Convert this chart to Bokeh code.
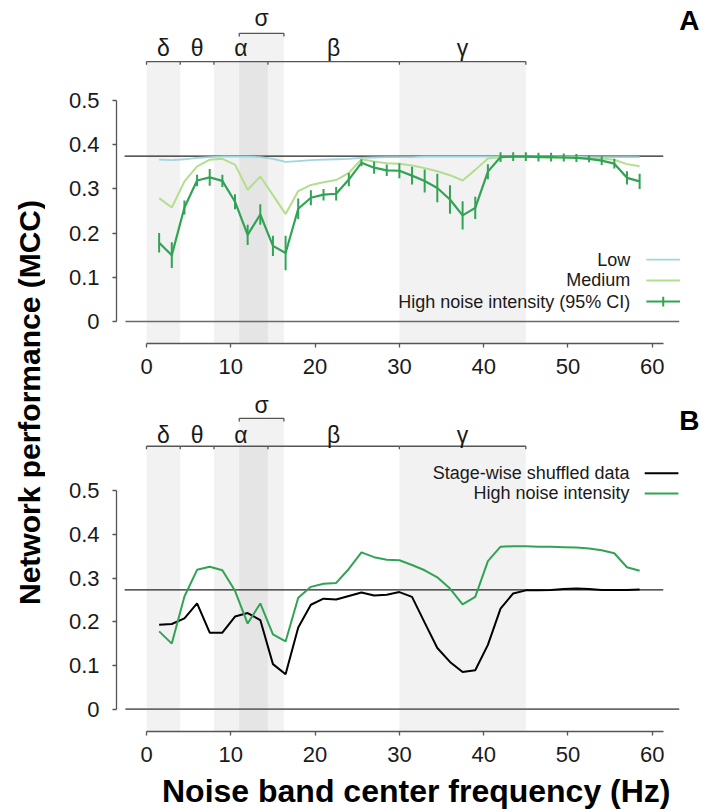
import math
from bokeh.plotting import figure
from bokeh.layouts import row, column
from bokeh.models import Range1d, FixedTicker
from bokeh.embed import file_html
from bokeh.resources import INLINE
from bokeh.core.properties import value

# ---------------- data ----------------
freq = [1.5, 3.0, 4.5, 6.0, 7.5, 9.0, 10.5, 12.0, 13.5, 15.0,
        16.5, 18.0, 19.5, 21.0, 22.5, 24.0, 25.5, 27.0, 28.5, 30.0,
        31.5, 33.0, 34.5, 36.0, 37.5, 39.0, 40.5, 42.0, 43.5, 45.0,
        46.5, 48.0, 49.5, 51.0, 52.5, 54.0, 55.5, 57.0, 58.5]

low = [0.366, 0.365, 0.367, 0.370, 0.372, 0.373, 0.373, 0.373, 0.372, 0.368,
       0.361, 0.363, 0.365, 0.366, 0.367, 0.368, 0.370, 0.371, 0.372, 0.372,
       0.372, 0.373, 0.373, 0.373, 0.373, 0.373, 0.373, 0.373, 0.373, 0.373,
       0.373, 0.373, 0.373, 0.373, 0.372, 0.372, 0.372, 0.372, 0.372]

medium = [0.279, 0.258, 0.317, 0.351, 0.366, 0.368, 0.355, 0.298, 0.328, 0.286,
          0.243, 0.295, 0.309, 0.315, 0.320, 0.336, 0.367, 0.362, 0.358, 0.357,
          0.353, 0.347, 0.340, 0.331, 0.319, 0.343, 0.369, 0.372, 0.372, 0.372,
          0.372, 0.371, 0.371, 0.371, 0.370, 0.369, 0.366, 0.356, 0.351]

high = [0.178, 0.150, 0.258, 0.319, 0.326, 0.318, 0.271, 0.196, 0.242, 0.171,
        0.155, 0.255, 0.280, 0.287, 0.289, 0.321, 0.359, 0.348, 0.342, 0.341,
        0.330, 0.318, 0.302, 0.276, 0.240, 0.257, 0.339, 0.372, 0.373, 0.373,
        0.372, 0.372, 0.371, 0.370, 0.368, 0.364, 0.357, 0.325, 0.317]

high_ci = [0.022, 0.029, 0.016, 0.013, 0.019, 0.014, 0.017, 0.023, 0.023, 0.023,
           0.039, 0.023, 0.017, 0.013, 0.015, 0.015, 0.008, 0.014, 0.013, 0.017,
           0.020, 0.026, 0.032, 0.032, 0.032, 0.025, 0.017, 0.011, 0.010, 0.010,
           0.010, 0.010, 0.009, 0.009, 0.008, 0.010, 0.011, 0.015, 0.017]

shuffled = [0.193, 0.195, 0.208, 0.242, 0.175, 0.175, 0.212, 0.220, 0.204, 0.103,
            0.080, 0.187, 0.239, 0.253, 0.251, 0.259, 0.267, 0.260, 0.262, 0.268,
            0.257, 0.198, 0.140, 0.108, 0.085, 0.089, 0.147, 0.230, 0.265, 0.272,
            0.272, 0.273, 0.275, 0.276, 0.275, 0.273, 0.273, 0.273, 0.274]

ref_A = 0.374
ref_B = 0.273

band_names = ["δ", "θ", "α", "β", "γ"]
band_lo = [0, 4, 8, 14.4, 30]
band_hi = [4, 8, 14.4, 30, 45]
band_shaded = [True, False, True, False, True]
sigma_name = "σ"
sigma_lo = 11
sigma_hi = 16.3

x_ticks = [0, 10, 20, 30, 40, 50, 60]
y_ticks = [0, 0.1, 0.2, 0.3, 0.4, 0.5]
y_tick_labels = ["0", "0.1", "0.2", "0.3", "0.4", "0.5"]

legend_A = ["Low", "Medium", "High noise intensity (95% CI)"]
legend_B = ["Stage-wise shuffled data", "High noise intensity"]
x_title = "Noise band center frequency (Hz)"
y_title = "Network performance (MCC)"

# ---------------- style ----------------
FONT = "Liberation Sans"
C_LOW = "#9fd5dc"
C_MED = "#b2df8e"
C_HIGH = "#31a354"
C_AXIS = "#555555"
C_TEXT = "#1a1a1a"

xr = Range1d(-3.559, 65.84)


def make_panel(height, y_start, y_end, border_bottom):
    p = figure(width=656, height=height, x_range=xr, y_range=Range1d(y_start, y_end),
               output_backend="svg", toolbar_location=None,
               min_border_left=71, min_border_right=0, min_border_top=0,
               min_border_bottom=border_bottom)
    p.grid.visible = False
    p.outline_line_color = None
    for ax in (p.xaxis[0], p.yaxis[0]):
        ax.axis_line_color = C_AXIS
        ax.axis_line_width = 1.3
        ax.major_tick_line_color = C_AXIS
        ax.major_tick_line_width = 1.3
        ax.major_tick_in = 0
        ax.major_tick_out = 4
        ax.minor_tick_line_color = None
        ax.major_label_text_font = FONT
        ax.major_label_text_font_size = "22px"
        ax.major_label_text_color = C_TEXT
    p.xaxis.ticker = FixedTicker(ticks=x_ticks)
    p.xaxis.bounds = (0, 61.3)
    p.xaxis.major_label_standoff = 11
    p.yaxis.ticker = FixedTicker(ticks=y_ticks)
    p.yaxis.bounds = (0, 0.5)
    p.yaxis.major_label_overrides = dict(zip(y_ticks, y_tick_labels))
    p.yaxis.major_label_standoff = 13
    return p


def draw_bands(p, ybot, px):
    vb = px["bracket"]
    vs = px["sigma_bracket"]
    tick = px["tick"]
    lo = [l for l, s in zip(band_lo, band_shaded) if s]
    hi = [h for h, s in zip(band_hi, band_shaded) if s]
    p.quad(left=lo, right=hi, bottom=[ybot] * len(lo), top=[vb] * len(lo),
           fill_color="black", fill_alpha=0.05, line_color=None)
    p.quad(left=[sigma_lo], right=[sigma_hi], bottom=[ybot], top=[vs],
           fill_color="black", fill_alpha=0.05, line_color=None)
    n = len(band_lo)
    p.segment(x0=band_lo, x1=band_hi, y0=[vb] * n, y1=[vb] * n,
              line_color=C_AXIS, line_width=1.3)
    edges = band_lo + [band_hi[-1]]
    p.segment(x0=edges, x1=edges, y0=[vb] * len(edges), y1=[vb - tick] * len(edges),
              line_color=C_AXIS, line_width=1.3)
    p.segment(x0=[sigma_lo], x1=[sigma_hi], y0=[vs], y1=[vs],
              line_color=C_AXIS, line_width=1.3)
    p.segment(x0=[sigma_lo, sigma_hi], x1=[sigma_lo, sigma_hi], y0=[vs, vs],
              y1=[vs - tick, vs - tick], line_color=C_AXIS, line_width=1.3)
    centers = [(l + h) / 2 for l, h in zip(band_lo, band_hi)]
    p.text(x=centers, y=[px["labels"]] * n, text=band_names,
           text_font=value(FONT), text_font_size="23px", text_color=C_TEXT,
           text_align="center", text_baseline="middle")
    p.text(x=[(sigma_lo + sigma_hi) / 2], y=[px["sigma_label"]], text=[sigma_name],
           text_font=value(FONT), text_font_size="23px", text_color=C_TEXT,
           text_align="center", text_baseline="middle")


# ---------------- panel A ----------------
yA0, yA1 = -0.0498, 0.7262
pA = make_panel(385, yA0, yA1, 42)
draw_bands(pA, yA0, dict(bracket=0.588, sigma_bracket=0.652, tick=0.007,
                         labels=0.618, sigma_label=0.686))
pA.segment(x0=[-2.5], x1=[63.2], y0=[0], y1=[0], line_color="#6a6a6a", line_width=1.6)
pA.segment(x0=[-2.6], x1=[61.3], y0=[ref_A], y1=[ref_A], line_color="#222222", line_width=1.2)
pA.line(freq, low, line_color=C_LOW, line_width=1.8)
pA.line(freq, medium, line_color=C_MED, line_width=2)
pA.segment(x0=freq, x1=freq, y0=[h - c for h, c in zip(high, high_ci)],
           y1=[h + c for h, c in zip(high, high_ci)], line_color=C_HIGH, line_width=2)
pA.line(freq, high, line_color=C_HIGH, line_width=2.2)
# legend A
leg_y = [0.140, 0.093, 0.045]
pA.text(x=[57.4] * 3, y=leg_y, text=legend_A, text_font=value(FONT),
        text_font_size="18px", text_color=C_TEXT, text_align="right", text_baseline="middle")
pA.segment(x0=[59.3] * 3, x1=[63.3] * 3, y0=leg_y, y1=leg_y,
           line_color=[C_LOW, C_MED, C_HIGH], line_width=[1.8, 2, 2])
pA.segment(x0=[61.3], x1=[61.3], y0=[leg_y[2] - 0.011], y1=[leg_y[2] + 0.011],
           line_color=C_HIGH, line_width=2)
pA.text(x=[64.4], y=[0.681], text=["A"], text_font=value(FONT), text_font_size="28px",
        text_font_style="bold", text_color="black", text_align="center", text_baseline="middle")

# ---------------- panel B ----------------
yB0, yB1 = -0.0513, 0.7412
pB = make_panel(387, yB0, yB1, 41)
draw_bands(pB, yB0, dict(bracket=0.602, sigma_bracket=0.666, tick=0.007,
                         labels=0.628, sigma_label=0.697))
pB.segment(x0=[-2.5], x1=[63.2], y0=[0], y1=[0], line_color="#6a6a6a", line_width=1.6)
pB.segment(x0=[-2.6], x1=[61.3], y0=[ref_B], y1=[ref_B], line_color="#222222", line_width=1.2)
pB.line(freq, shuffled, line_color="black", line_width=2)
pB.line(freq, high, line_color=C_HIGH, line_width=2)
leg_yB = [0.540, 0.494]
pB.text(x=[57.3] * 2, y=leg_yB, text=legend_B, text_font=value(FONT),
        text_font_size="18px", text_color=C_TEXT, text_align="right", text_baseline="middle")
pB.segment(x0=[59.1] * 2, x1=[63.1] * 2, y0=leg_yB, y1=leg_yB,
           line_color=["black", C_HIGH], line_width=2)
pB.text(x=[64.4], y=[0.660], text=["B"], text_font=value(FONT), text_font_size="28px",
        text_font_style="bold", text_color="black", text_align="center", text_baseline="middle")

# ---------------- x title strip ----------------
xt = figure(width=656, height=37, x_range=xr, y_range=Range1d(0, 37),
            output_backend="svg", toolbar_location=None, x_axis_type=None, y_axis_type=None,
            min_border_left=71, min_border_right=0, min_border_top=0, min_border_bottom=0)
xt.grid.visible = False
xt.outline_line_color = None
xt.text(x=[32.0], y=[19], text=[x_title], text_font=value(FONT), text_font_size="32px",
        text_font_style="bold", text_color="black", text_align="center", text_baseline="middle")

# ---------------- shared y label ----------------
lab = figure(width=45, height=809, x_range=Range1d(0, 45), y_range=Range1d(0, 809),
             output_backend="svg", toolbar_location=None, x_axis_type=None, y_axis_type=None,
             min_border=0)
lab.grid.visible = False
lab.outline_line_color = None
lab.text(x=[29], y=[407], text=[y_title], angle=math.pi / 2,
         text_font=value(FONT), text_font_size="30px", text_font_style="bold",
         text_color="black", text_align="center", text_baseline="middle")

layout = row(lab, column(pA, pB, xt))
open("out.html", "w").write(file_html(layout, INLINE))
